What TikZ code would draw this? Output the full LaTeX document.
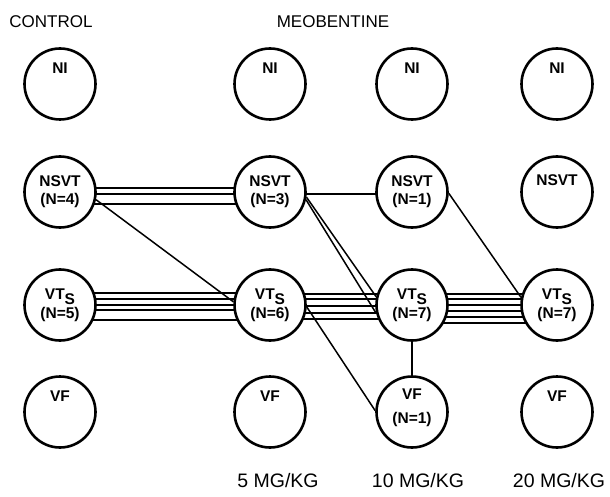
\documentclass[tikz,border=0pt]{standalone}
\usepackage{fontspec}
\setmainfont{Liberation Sans}
\usetikzlibrary{positioning,calc,backgrounds}
\tikzset{
  st/.style={circle,draw=black,line width=2.6pt,minimum size=71pt,inner sep=0pt,fill=white},
  stxt/.style={font=\fontsize{15.5}{18}\selectfont\bfseries,align=center,inner sep=0pt},
  ttl/.style={font=\fontsize{17}{19}\selectfont,inner sep=0pt},
  dose/.style={font=\fontsize{19.5}{21}\selectfont,inner sep=0pt},
  lnk/.style={line width=1.5pt},
}
\newcommand{\vts}{VT\raisebox{-5pt}{S}}

\begin{document}
\begin{tikzpicture}[x=1pt,y=-1pt]
  \useasboundingbox (0,0) rectangle (610,497);
  % headers
  \node[ttl] (hctl) at (51,22) {CONTROL};
  \node[ttl] (hmeo) at (333,22) {MEOBENTINE};
  % control column
  \node[st] (NI0) at (60,84) {};
  \node[st,stxt] (NSVT0) at (60,192) {NSVT\\(N=4)};
  \node[st,stxt] (VT0) at (60,305) {\vts\\[1pt](N=5)};
  \node[st] (VF0) at (60,412) {};
  % 5 mg/kg
  \node[st] (NI5) at (270,84) {};
  \node[st,stxt] (NSVT5) at (270,192) {NSVT\\(N=3)};
  \node[st,stxt] (VT5) at (270,305) {\vts\\[1pt](N=6)};
  \node[st] (VF5) at (270,412) {};
  % 10 mg/kg
  \node[st] (NI10) at (412,84) {};
  \node[st,stxt] (NSVT10) at (412,192) {NSVT\\(N=1)};
  \node[st,stxt] (VT10) at (412,305) {\vts\\[1pt](N=7)};
  \node[st] (VF10) at (412,412) {};
  % 20 mg/kg
  \node[st] (NI20) at (557,84) {};
  \node[st,stxt] (NSVT20) at (557,192) {NSVT\\ \strut};
  \node[st,stxt] (VT20) at (557,305) {\vts\\[1pt](N=7)};
  \node[st] (VF20) at (557,412) {};
  % labels near the top of the empty circles
  \foreach \c in {0,5,10,20}{
    \node[stxt] (NIt\c) at ($(NI\c)+(0,-16)$) {NI};
  }
  \node[stxt] (VFt0) at ($(VF0)+(0,-16)$) {VF};
  \node[stxt] (VFt5) at ($(VF5)+(0,-16)$) {VF};
  \node[stxt] (VFt10) at ($(VF10)+(0,-4)$) {VF\\[6pt](N=1)};
  \node[stxt] (VFt20) at ($(VF20)+(0,-16)$) {VF};
  % doses
  \node[dose] (d5) at (278,481) {5 MG/KG};
  \node[dose] (d10) at (418,481) {10 MG/KG};
  \node[dose] (d20) at (559,481) {20 MG/KG};

  \begin{scope}[on background layer]
    \foreach \dy in {-4,2,12}
      \draw[lnk] ($(NSVT0)+(0,\dy)$) -- ($(NSVT5)+(0,\dy)$);
    \foreach \dy in {-12,-6,0,5,15}
      \draw[lnk] ($(VT0)+(0,\dy)$) -- ($(VT5)+(0,\dy)$);
    \foreach \dy in {-11,-6,1,8,14}
      \draw[lnk] ($(VT5)+(0,\dy)$) -- ($(VT10)+(0,\dy)$);
    \foreach \dy in {-11,-6,0,6,12,18}
      \draw[lnk] ($(VT10)+(0,\dy)$) -- ($(VT20)+(0,\dy)$);
    \draw[lnk] ($(NSVT5)+(0,2)$) -- ($(NSVT10)+(0,2)$);
  \end{scope}
  % crossings between rows
  \draw[lnk] (NSVT0.-12) -- (VT5.175);
  \draw[lnk] (NSVT5.-8) -- (VT10.167);
  \draw[lnk] (NSVT5.-12) -- (VT10.193);
  \draw[lnk] (VT5.-3) -- (VF10.178);
  \draw[lnk] (NSVT10.-2) -- (VT20.168);
  \draw[lnk] (VT10.south) -- (VF10.north);
\end{tikzpicture}
\end{document}
